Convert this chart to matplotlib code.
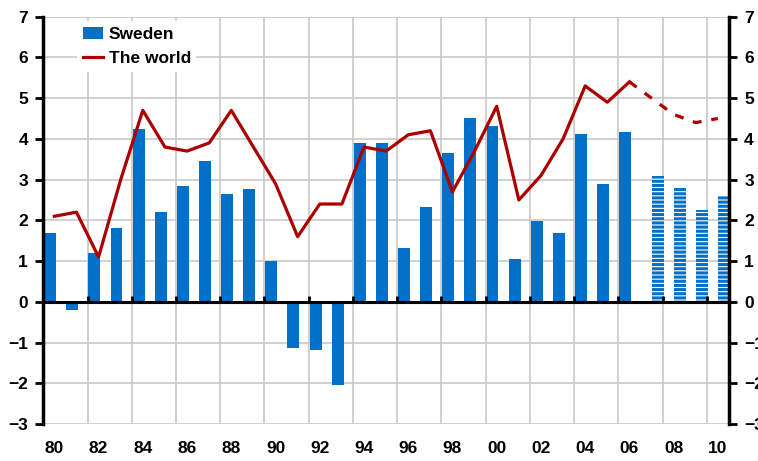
import matplotlib
matplotlib.use("Agg")
import matplotlib.pyplot as plt

# GDP growth, per cent
years_hist = list(range(1980, 2007))
sweden_hist = [1.7, -0.2, 1.2, 1.8, 4.25, 2.2, 2.85, 3.45, 2.65, 2.78,
               1.0, -1.13, -1.19, -2.05, 3.9, 3.9, 1.32, 2.33, 3.65, 4.51,
               4.31, 1.05, 1.99, 1.69, 4.12, 2.89, 4.17]
years_fc = [2007, 2008, 2009, 2010]
sweden_fc = [3.1, 2.8, 2.25, 2.6]

world_years = list(range(1980, 2007))
world = [2.1, 2.2, 1.1, 3.0, 4.7, 3.8, 3.7, 3.9, 4.7, 3.8,
         2.9, 1.6, 2.4, 2.4, 3.8, 3.7, 4.1, 4.2, 2.7, 3.7,
         4.8, 2.5, 3.1, 4.0, 5.3, 4.9, 5.4]
world_fc_years = [2006, 2007, 2008, 2009, 2010]
world_fc = [5.4, 5.0, 4.6, 4.4, 4.5]

BLUE = "#0070C8"
RED = "#AA0000"
GRID = "#c8c8c8"

plt.rcParams["font.family"] = ["Liberation Sans", "DejaVu Sans"]
plt.rcParams["font.weight"] = "bold"
plt.rcParams["hatch.linewidth"] = 2.2

fig = plt.figure(figsize=(7.58, 4.61), dpi=100)
ax = fig.add_axes([0.0571, 0.0803, 0.9046, 0.8835])

bars = ax.bar([y - 0.19 for y in years_hist], sweden_hist, width=0.54,
              color=BLUE, zorder=2, label="Sweden")
ax.bar([y + 0.29 for y in years_fc], sweden_fc, width=0.54, facecolor="white",
       edgecolor=BLUE, hatch="----", linewidth=0, zorder=2)

line, = ax.plot(world_years, world, color=RED, lw=2.3, zorder=3,
                label="The world")
ax.plot(world_fc_years, world_fc, color=RED, lw=2.3, dashes=(2.8, 3.1), zorder=3)

ax.set_xlim(1979.5, 2010.5)
ax.set_ylim(-3, 7)
ax.set_yticks(range(-3, 8))

even = [y for y in range(1980, 2011) if y % 2 == 0]
ax.set_xticks(even)
ax.set_xticklabels([f"{y % 100:02d}" for y in even])
bounds = [y - 0.5 for y in even if y > 1980]
ax.set_xticks(bounds, minor=True)

ax.grid(axis="y", color=GRID, lw=1.2, zorder=0)
ax.grid(axis="x", which="minor", color=GRID, lw=1.2, zorder=0)
ax.set_axisbelow(True)

ax.axhline(0, color="black", lw=2.2, zorder=4)
ax.vlines(bounds, 0, 0.14, color="black", lw=2, zorder=4)

for s in ("top", "bottom"):
    ax.spines[s].set_visible(False)
for s in ("left", "right"):
    ax.spines[s].set_linewidth(2.5)
    ax.spines[s].set_zorder(5)

ax.tick_params(axis="y", direction="out", length=6, width=2, labelsize=12.5,
               pad=5, right=True, labelright=True)
ax.tick_params(axis="x", which="both", length=0, labelsize=12.5, pad=12)

leg = ax.legend(handles=[bars, line], loc="upper left",
                bbox_to_anchor=(0.037, 1.01), fontsize=12.5, frameon=True,
                facecolor="white", edgecolor="none", framealpha=1,
                fancybox=False, handlelength=1.15, handletextpad=0.35,
                labelspacing=0.55, borderpad=0.3)
leg.set_zorder(6)

fig.savefig("out.png", dpi=100)
